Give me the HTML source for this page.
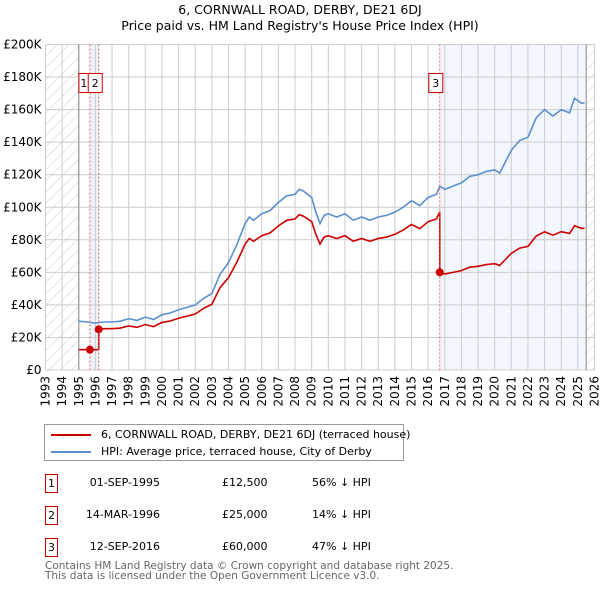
<!DOCTYPE html>
<html><head><meta charset="utf-8"><style>
body{margin:0;background:#fff;font-family:"DejaVu Sans","Liberation Sans",sans-serif;}
#wrap{position:relative;width:600px;height:590px;}
.t{position:absolute;font-size:12px;color:#000;white-space:nowrap}
</style></head><body><div id="wrap">
<div class="t" style="left:0;width:600px;text-align:center;top:2px;font-size:12.5px;line-height:16px">6, CORNWALL ROAD, DERBY, DE21 6DJ<br>Price paid vs. HM Land Registry's House Price Index (HPI)</div>
<svg id="svg" width="600" height="420" style="position:absolute;left:0;top:0" font-family="DejaVu Sans, Liberation Sans, sans-serif"></svg>
<div style="position:absolute;left:44px;top:424px;width:360px;height:37px;border:1px solid #999;box-sizing:border-box">
<div style="position:absolute;left:6px;top:9px;width:40px;height:2px;background:#cc0000"></div>
<div class="t" style="left:56px;top:3px;font-size:11px">6, CORNWALL ROAD, DERBY, DE21 6DJ (terraced house)</div>
<div style="position:absolute;left:6px;top:26px;width:40px;height:2px;background:#5b8fd0"></div>
<div class="t" style="left:56px;top:20px;font-size:11px">HPI: Average price, terraced house, City of Derby</div>
</div>
<div id="tbl"></div>
<div class="t" style="left:45px;top:561px;font-size:10.5px;color:#666;line-height:10px">Contains HM Land Registry data © Crown copyright and database right 2025.<br>This data is licensed under the Open Government Licence v3.0.</div>
</div>
<script>
const hpiYears=[1995,1995.5,1996,1996.5,1997,1997.5,1998,1998.5,1999,1999.5,2000,2000.5,2001,2001.5,2002,2002.5,2003,2003.5,2004,2004.5,2005,2005.25,2005.5,2006,2006.5,2007,2007.5,2008,2008.25,2008.5,2009,2009.25,2009.5,2009.75,2010,2010.5,2011,2011.5,2012,2012.5,2013,2013.5,2014,2014.5,2015,2015.5,2016,2016.5,2016.7,2017,2017.5,2018,2018.5,2019,2019.5,2020,2020.3,2021,2021.5,2022,2022.5,2023,2023.5,2024,2024.5,2024.8,2025.2,2025.4];
const hpiValues=[30000,29500,28800,29500,29500,30000,31500,30500,32500,31000,34000,35000,37000,38500,40000,44000,47000,59000,66000,77000,90000,94000,92000,96000,98000,103000,107000,108000,111000,110000,106000,97000,90000,95000,96000,94000,96000,92000,94000,92000,94000,95000,97000,100000,104000,101000,106000,108000,113000,111000,113000,115000,119000,120000,122000,123000,121000,135000,141000,143000,155000,160000,156000,160000,158000,167000,164000,164000];
const saleDates=[1995.67,1996.2,2016.7];
const salePrices=[12500,25000,60000];
const saleLabels=["01-SEP-1995","14-MAR-1996","12-SEP-2016"];
const salePrice=["£12,500","£25,000","£60,000"];
const saleDiff=["56% ↓ HPI","14% ↓ HPI","47% ↓ HPI"];
const yTicks=[0,20000,40000,60000,80000,100000,120000,140000,160000,180000,200000];
const yTickLabels=["£0","£20K","£40K","£60K","£80K","£100K","£120K","£140K","£160K","£180K","£200K"];
const x0=45.5,x1=594.5,y0=370,y1=44.5;
const X=t=>x0+(t-1993)/33*(x1-x0);
const Y=v=>y0-v/200000*(y0-y1);
const svg=document.getElementById('svg');const NS='http://www.w3.org/2000/svg';
function mk(tag,at,parent){const e=document.createElementNS(NS,tag);for(const k in at)e.setAttribute(k,at[k]);(parent||svg).appendChild(e);return e;}
const defs=mk('defs',{});const pat=mk('pattern',{id:'h',width:8,height:8,patternUnits:'userSpaceOnUse',patternTransform:'rotate(45)'},defs);mk('line',{x1:0,y1:0,x2:0,y2:8,stroke:'#ccc','stroke-width':1},pat);
let e;
e=mk('rect',{x:X(1993),y:y1,width:X(1995)-X(1993),height:y0-y1,fill:'url(#h)'});

e=mk('rect',{x:X(2025.5),y:y1,width:X(2026)-X(2025.5),height:y0-y1,fill:'url(#h)'});

e=mk('rect',{x:X(saleDates[0]),y:y1,width:X(saleDates[1])-X(saleDates[0]),height:y0-y1,fill:'#eef2fb'});

e=mk('rect',{x:X(saleDates[2]),y:y1,width:X(2025.5)-X(saleDates[2]),height:y0-y1,fill:'#f3f6fd'});

for(let yr=1993;yr<=2026;yr++){e=mk('line',{x1:X(yr),x2:X(yr),y1:y1,y2:y0,stroke:'#ccc','stroke-width':1});

e=mk('text',{x:0,y:0,transform:`translate(${X(yr)+4},${y0+6}) rotate(-90)`,'text-anchor':'end','font-size':12});e.textContent=yr;
}
yTicks.forEach((v,i)=>{e=mk('line',{x1:x0,x2:x1,y1:Y(v),y2:Y(v),stroke:'#ccc','stroke-width':1});

e=mk('text',{x:x0-4,y:Y(v)+4,'text-anchor':'end','font-size':12});e.textContent=yTickLabels[i];
});
[1995,2025.5].forEach(t=>{e=mk('line',{x1:X(t),x2:X(t),y1:y1,y2:y0,stroke:'#888','stroke-width':1});
});
function hpiAt(t){for(let i=0;i<hpiYears.length-1;i++){if(t<=hpiYears[i+1]){const f=(t-hpiYears[i])/(hpiYears[i+1]-hpiYears[i]);return hpiValues[i]+f*(hpiValues[i+1]-hpiValues[i]);}}return hpiValues[hpiValues.length-1];}
e=mk('polyline',{points:hpiYears.map((t,i)=>X(t)+','+Y(hpiValues[i])).join(' '),fill:'none',stroke:'#5b8fd0','stroke-width':1.6});

let pts=[X(1995)+','+Y(salePrices[0]),X(saleDates[0])+','+Y(salePrices[0])];
for(let s=0;s<saleDates.length;s++){const end=s<saleDates.length-1?saleDates[s+1]:2025.4;const r=salePrices[s]/hpiAt(saleDates[s]);
if(s===0){pts.push(X(saleDates[1])+','+Y(salePrices[0]));continue;}
pts.push(X(saleDates[s])+','+Y(salePrices[s]));
hpiYears.forEach((t,i)=>{if(t>saleDates[s]&&t<end)pts.push(X(t)+','+Y(hpiValues[i]*r));});
pts.push(X(end)+','+Y(hpiAt(end)*r));}
e=mk('polyline',{points:pts.join(' '),fill:'none',stroke:'#cc0000','stroke-width':1.6});

const boxOff=[-11,-10.5,-11],boxW=[10,14,14];
saleDates.forEach((t,i)=>{e=mk('line',{x1:X(t),x2:X(t),y1:y1,y2:y0,stroke:'#e06060','stroke-width':1,'stroke-dasharray':'2,2'});

e=mk('circle',{cx:X(t),cy:Y(salePrices[i]),r:4,fill:'#cc0000'});

const bx=X(t)+boxOff[i];const g=mk('g',{});
mk('rect',{x:bx,y:73.5,width:boxW[i],height:19,fill:'#fff',stroke:'#cc0000','stroke-width':1},g);
const tx=mk('text',{x:bx+boxW[i]/2,y:87,'text-anchor':'middle','font-size':11},g);tx.textContent=i+1;
});
const tbl=document.getElementById('tbl');
saleDates.forEach((t,i)=>{const y=474+i*32;const r=document.createElement('div');

r.innerHTML=`<div style="position:absolute;left:45px;top:${y}px;width:13px;height:19px;border:1px solid #cc0000;box-sizing:border-box;font-size:11px;text-align:center;line-height:17px">${i+1}</div>
<div class="t" style="left:60px;width:100px;text-align:right;top:${y+2}px;font-size:11px">${saleLabels[i]}</div>
<div class="t" style="left:222px;top:${y+2}px;font-size:11px">${salePrice[i]}</div>
<div class="t" style="left:312px;top:${y+2}px;font-size:11px">${saleDiff[i]}</div>`;
tbl.appendChild(r);});
</script></body></html>
